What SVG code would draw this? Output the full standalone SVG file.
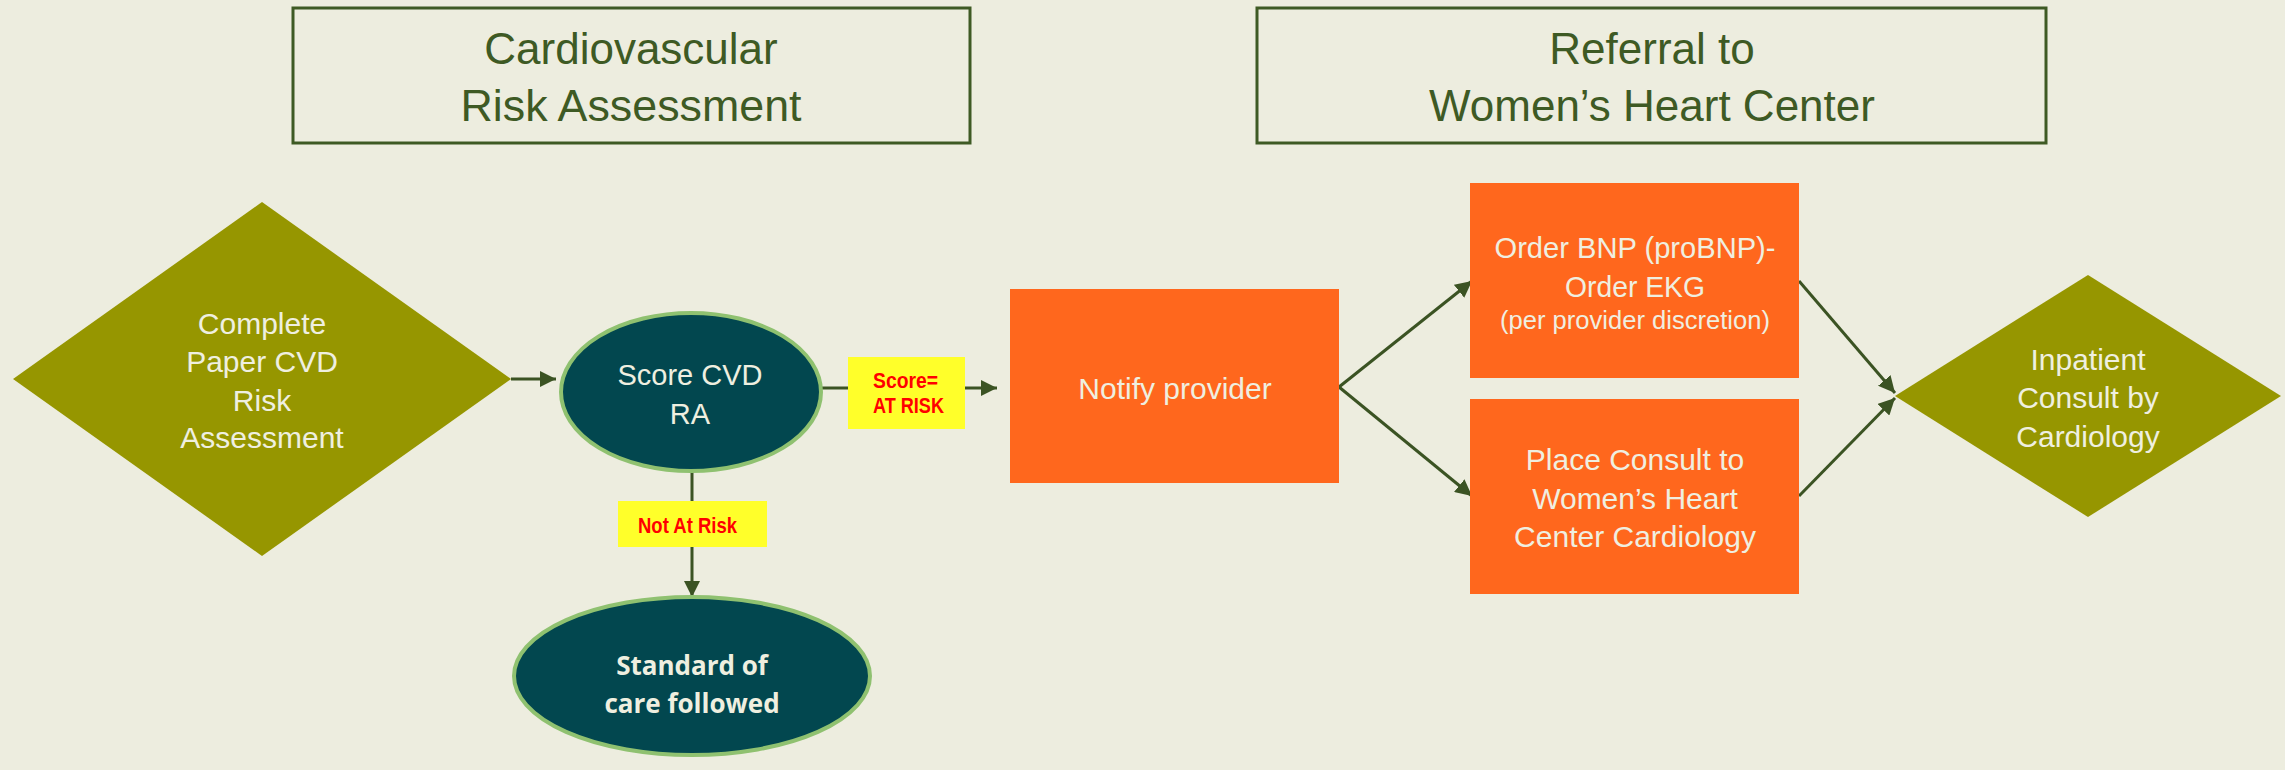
<svg xmlns="http://www.w3.org/2000/svg" width="2285" height="770" viewBox="0 0 2285 770">
<style>
.hdr{fill:none;stroke:#3e5a24;stroke-width:3}
.ht{font-family:"Liberation Sans",Arial,sans-serif;font-size:44px;fill:#3e5a24;text-anchor:middle}
.olive{fill:#969600}
.teal{fill:#02474f;stroke:#8fc170;stroke-width:4}
.orange{fill:#ff671d}
.nt{font-family:"Liberation Sans",Arial,sans-serif;font-size:30px;fill:#efefe0;text-anchor:middle}
.bt{font-family:"Open Sans","Liberation Sans",sans-serif;font-size:26px;font-weight:700;fill:#efefe0;text-anchor:middle}
.lbl{fill:#ffff2a}
.lt{font-family:"Liberation Sans",Arial,sans-serif;font-size:22px;font-weight:700;fill:#ff0000}
.con{fill:none;stroke:#3b5323;stroke-width:3}
</style>
<defs>
<marker id="ah" viewBox="0 0 10 10" refX="10" refY="5" markerWidth="5.5" markerHeight="5.5" orient="auto" markerUnits="strokeWidth">
<path d="M0,0 L10,5 L0,10 Z" fill="#3b5323"/>
</marker>
</defs>
<rect width="2285" height="770" fill="#ededdf"/>

<g id="header-risk">
<rect class="hdr" x="293" y="8" width="677" height="135"/>
<text class="ht" x="631" y="64">Cardiovascular</text>
<text class="ht" x="631" y="121" textLength="341" lengthAdjust="spacingAndGlyphs">Risk Assessment</text>
</g>
<g id="header-referral">
<rect class="hdr" x="1257" y="8" width="789" height="135"/>
<text class="ht" x="1652" y="64">Referral to</text>
<text class="ht" x="1652" y="121">Women’s Heart Center</text>
</g>

<g id="connectors">
<line class="con" x1="511" y1="379" x2="556" y2="379" marker-end="url(#ah)"/>
<line class="con" x1="820" y1="388" x2="848" y2="388"/>
<line class="con" x1="965" y1="388" x2="997" y2="388" marker-end="url(#ah)"/>
<line class="con" x1="692" y1="472" x2="692" y2="501"/>
<line class="con" x1="692" y1="547" x2="692" y2="597" marker-end="url(#ah)"/>
<line class="con" x1="1339" y1="387" x2="1472" y2="281" marker-end="url(#ah)"/>
<line class="con" x1="1339" y1="387" x2="1472" y2="496" marker-end="url(#ah)"/>
<line class="con" x1="1799" y1="281" x2="1895" y2="393" marker-end="url(#ah)"/>
<line class="con" x1="1799" y1="496" x2="1895" y2="398" marker-end="url(#ah)"/>
</g>

<g id="complete-paper">
<polygon class="olive" points="262,202 511,379 262,556 13,379"/>
<text class="nt" x="262" y="334">Complete</text>
<text class="nt" x="262" y="372">Paper CVD</text>
<text class="nt" x="262" y="411">Risk</text>
<text class="nt" x="262" y="448">Assessment</text>
</g>

<g id="score-cvd">
<ellipse class="teal" cx="691" cy="392" rx="130" ry="79"/>
<text class="nt" x="690" y="385" style="font-size:29px">Score CVD</text>
<text class="nt" x="690" y="424" style="font-size:29px">RA</text>
</g>

<g id="label-at-risk">
<rect class="lbl" x="848" y="357" width="117" height="72"/>
<text class="lt" x="873" y="388" textLength="65" lengthAdjust="spacingAndGlyphs">Score=</text>
<text class="lt" x="873" y="413" textLength="71" lengthAdjust="spacingAndGlyphs">AT RISK</text>
</g>

<g id="label-not-at-risk">
<rect class="lbl" x="618" y="501" width="149" height="46"/>
<text class="lt" x="638" y="533" textLength="99" lengthAdjust="spacingAndGlyphs">Not At Risk</text>
</g>

<g id="standard-care">
<ellipse class="teal" cx="692" cy="676" rx="178" ry="79"/>
<text class="bt" x="692" y="675">Standard of</text>
<text class="bt" x="692" y="713">care followed</text>
</g>

<g id="notify-provider">
<rect class="orange" x="1010" y="289" width="329" height="194"/>
<text class="nt" x="1175" y="399">Notify provider</text>
</g>

<g id="order-bnp">
<rect class="orange" x="1470" y="183" width="329" height="195"/>
<text class="nt" x="1635" y="258" style="font-size:29px" textLength="281" lengthAdjust="spacingAndGlyphs">Order BNP (proBNP)-</text>
<text class="nt" x="1635" y="297" style="font-size:29px" textLength="140" lengthAdjust="spacingAndGlyphs">Order EKG</text>
<text class="nt" x="1635" y="329" style="font-size:25px" textLength="270" lengthAdjust="spacingAndGlyphs">(per provider discretion)</text>
</g>

<g id="place-consult">
<rect class="orange" x="1470" y="399" width="329" height="195"/>
<text class="nt" x="1635" y="470">Place Consult to</text>
<text class="nt" x="1635" y="509">Women’s Heart</text>
<text class="nt" x="1635" y="547">Center Cardiology</text>
</g>

<g id="inpatient-consult">
<polygon class="olive" points="2088,275 2281,396 2088,517 1895,396"/>
<text class="nt" x="2088" y="370">Inpatient</text>
<text class="nt" x="2088" y="408">Consult by</text>
<text class="nt" x="2088" y="447">Cardiology</text>
</g>
</svg>
